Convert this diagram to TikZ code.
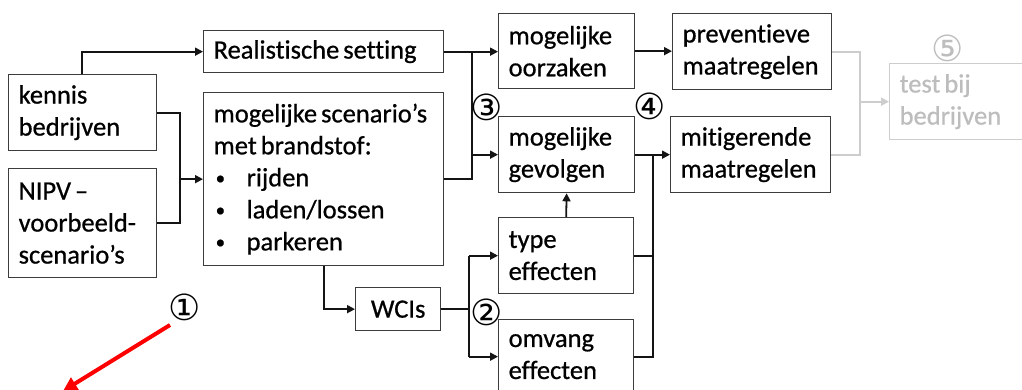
\documentclass[tikz,border=0pt]{standalone}
\usepackage{fontspec}
\setmainfont{Carlito}[Ligatures=NoCommon, FakeBold=0.7]
\newfontfamily\circfont{DejaVu Sans}
\usetikzlibrary{arrows.meta,calc}
\definecolor{boxline}{HTML}{3C3C3C}
\definecolor{connline}{HTML}{141414}
\definecolor{lightg}{HTML}{CDCDCD}
\definecolor{lighttext}{HTML}{BDBDBD}
\newcommand{\mybul}{\makebox[33pt][l]{\hspace{2pt}\raisebox{2pt}{\fontsize{19}{19}\selectfont\textbullet}}}
\newcommand{\tsp}{\hspace{4pt}}
\hyphenpenalty=10000
\exhyphenpenalty=10000
\begin{document}
\begin{tikzpicture}[x=1pt,y=-1pt,
  box/.style={draw=boxline, line width=1.3pt, rectangle, anchor=north west,
    inner xsep=10pt, inner ysep=0pt, align=left,
    font=\fontsize{26.5}{32}\selectfont},
  conn/.style={draw=connline, line width=1.8pt},
  arr/.style={conn, -{Triangle[length=8pt,width=8pt]}},
  gconn/.style={draw=lightg, line width=1.8pt},
  garr/.style={gconn, -{Triangle[length=8pt,width=8pt]}},
  circnum/.style={inner sep=0pt, font=\circfont\fontsize{36}{36}\selectfont},
]
\useasboundingbox (0,0) rectangle (1022,390);
\clip (0,0) rectangle (1022,390);

% boxes
\node[box, minimum width=148pt, text width=128pt, minimum height=76pt] (kennis) at (8,74) {kennis\\bedrijven};
\node[box, minimum width=148pt, text width=128pt, minimum height=109pt] (nipv) at (8,168) {NIPV\tsp–\\voorbeeld-\\scenario’s};
\node[box, minimum width=240pt, text width=220pt, minimum height=42pt] (real) at (203,30) {Realistische\tsp setting};
\node[box, minimum width=240pt, text width=220pt, minimum height=173pt] (scen) at (203,92) {mogelijke\tsp scenario’s\\met\tsp brandstof:\\\mybul rijden\\\mybul laden/lossen\\\mybul parkeren};
\node[box, minimum width=136pt, text width=116pt, minimum height=75pt] (oorz) at (498,13) {mogelijke\\oorzaken};
\node[box, minimum width=136pt, text width=116pt, minimum height=76pt] (gev) at (498,116) {mogelijke\\gevolgen};
\node[box, minimum width=159pt, text width=139pt, minimum height=76pt] (prev) at (672,13) {preventieve\\maatregelen};
\node[box, minimum width=160pt, text width=140pt, minimum height=76pt] (mit) at (670,116) {mitigerende\\maatregelen};
\node[box, minimum width=135pt, text width=115pt, minimum height=76pt] (type) at (498,217) {type\\effecten};
\node[box, minimum width=135pt, text width=115pt, minimum height=74pt] (omv) at (498,319) {omvang\\effecten};
\node[box, draw=lightg, text=lighttext, minimum width=160pt, text width=140pt, minimum height=76pt] (test) at (889,63) {test\tsp bij\\bedrijven};
\node[draw=boxline, line width=1.3pt, rectangle, anchor=north west, inner sep=0pt,
  minimum width=85pt, minimum height=43pt, font=\fontsize{26.5}{32}\selectfont] (wcis) at (355,287) {WCIs};

% connectors
\draw[arr] ([xshift=74pt]kennis.north west) |- (real.west);
\coordinate (j1) at ($(scen.west)+(-23,0)$);
\draw[conn] (kennis.east) -| (j1) |- (nipv.east);
\draw[arr] (j1) -- (scen.west);

\coordinate (j3) at ($(real.east)+(28,0)$);
\draw[conn] (scen.east) -| (j3);
\draw[arr] (real.east) -- (real.east -| oorz.west);
\draw[arr] (j3 |- gev.west) -- (gev.west);

\draw[arr] (oorz.east) -- (oorz.east -| prev.west);
\draw[arr] (gev.east) -- (gev.east -| mit.west);
\coordinate (j4) at ($(gev.east)+(18,0)$);
\draw[conn] (type.east) -| (j4);
\draw[conn] (omv.east) -| (j4);
\draw[arr] (type.north) -- (gev.south);

\draw[arr] (scen.south) |- (wcis.west);
\coordinate (j2) at ($(wcis.east)+(28,0)$);
\draw[conn] (wcis.east) -- (j2);
\draw[conn] (j2 |- type.west) -- (j2 |- omv.west);
\draw[arr] (j2 |- type.west) -- (type.west);
\draw[arr] (j2 |- omv.west) -- (omv.west);

\coordinate (j5) at ($(test.west)+(-29,0)$);
\draw[gconn] (prev.east) -| (j5);
\draw[gconn] (mit.east) -| (j5);
\draw[garr] (j5) -- (test.west);

% circled numbers
\node[circnum] (n1) at (185,307) {①};
\node[circnum] (n2) at (487,312) {②};
\node[circnum] (n3) at (487,107) {③};
\node[circnum] (n4) at (650,106) {④};
\node[circnum, text=lighttext] (n5) at (948,48) {⑤};

% red arrow
\coordinate (rs) at (170,325);
\coordinate (re) at (63,391);
\draw[red, line width=4pt, -{Triangle[length=14pt,width=14pt]}] (rs) -- (re);
\end{tikzpicture}
\end{document}
